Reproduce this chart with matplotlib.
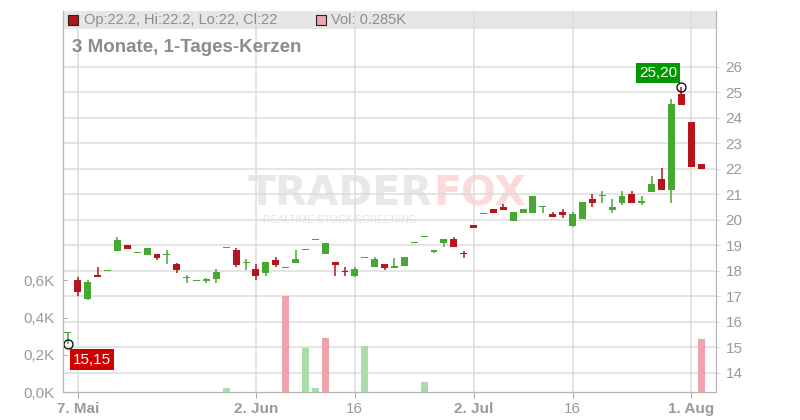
import numpy as np
import pandas as pd
import matplotlib
matplotlib.use('Agg')
import matplotlib.pyplot as plt
from matplotlib.patches import Rectangle
from matplotlib.ticker import FuncFormatter

plt.rcParams['font.family'] = ['Liberation Sans', 'DejaVu Sans']

# Handelstage 6. Mai - 4. Aug 2025
dates = pd.bdate_range('2025-05-06', '2025-08-04')

opens = [15.56, 17.65, 16.91, 17.84, 18.00, 18.79, 19.02, 18.69, 18.60, 18.66,
         18.62, 18.28, 17.72, 17.59, 17.61, 17.68, 18.89, 18.82, 18.30, 18.08,
         17.93, 18.43, 18.10, 18.31, 18.81, 19.20, 18.66, 18.35, 17.99, 17.81,
         18.50, 18.15, 18.27, 18.12, 18.17, 19.08, 19.32, 18.74, 19.07, 19.25,
         18.70, 19.80, 20.22, 20.43, 20.50, 19.97, 20.28, 20.28, 20.48, 20.23,
         20.31, 19.76, 20.03, 20.82, 20.93, 20.39, 20.66, 21.00, 20.67, 21.10,
         21.60, 21.18, 24.93, 23.83, 22.2]
highs = [15.58, 17.76, 17.63, 18.15, 18.00, 19.34, 19.02, 18.69, 18.90, 18.66,
         18.82, 18.31, 17.84, 17.59, 17.72, 18.08, 18.89, 18.90, 18.46, 18.27,
         18.35, 18.55, 18.10, 18.82, 18.81, 19.20, 19.09, 18.35, 18.15, 18.15,
         18.50, 18.55, 18.27, 18.51, 18.55, 19.08, 19.32, 18.81, 19.25, 19.33,
         18.78, 19.80, 20.22, 20.43, 20.62, 20.31, 20.43, 20.92, 20.49, 20.31,
         20.43, 20.31, 20.70, 21.01, 21.13, 20.82, 21.13, 21.13, 20.94, 21.72,
         22.02, 24.72, 25.20, 23.83, 22.2]
lows = [15.15, 17.03, 16.87, 17.74, 18.00, 18.79, 18.87, 18.69, 18.60, 18.44,
        18.28, 17.93, 17.54, 17.59, 17.54, 17.54, 18.89, 18.13, 18.05, 17.62,
        17.81, 18.13, 18.10, 18.31, 18.81, 19.20, 18.66, 17.81, 17.81, 17.74,
        18.50, 18.15, 18.05, 18.12, 18.17, 19.08, 19.32, 18.68, 18.95, 18.95,
        18.52, 19.68, 20.22, 20.28, 20.39, 19.97, 20.28, 20.28, 20.28, 20.09,
        20.07, 19.72, 20.03, 20.48, 20.67, 20.28, 20.59, 20.67, 20.59, 21.10,
        21.18, 20.67, 24.51, 22.08, 22.0]
closes = [15.57, 17.15, 17.57, 17.74, 18.00, 19.21, 18.87, 18.69, 18.90, 18.52,
          18.66, 18.04, 17.76, 17.59, 17.65, 17.96, 18.89, 18.24, 18.34, 17.81,
          18.35, 18.24, 18.10, 18.47, 18.81, 19.20, 19.09, 18.23, 17.95, 18.08,
          18.50, 18.47, 18.09, 18.15, 18.55, 19.08, 19.32, 18.81, 19.25, 18.95,
          18.66, 19.68, 20.22, 20.28, 20.39, 20.31, 20.43, 20.92, 20.49, 20.09,
          20.19, 20.23, 20.70, 20.66, 20.95, 20.50, 20.94, 20.67, 20.69, 21.41,
          21.18, 24.53, 24.51, 22.08, 22.0]

# Volumen in Tausend (nur Tage mit Umsatz)
vol_days = ['2025-05-28', '2025-06-05', '2025-06-09', '2025-06-10', '2025-06-11',
            '2025-06-17', '2025-06-25', '2025-08-04']
vol_k = [0.02, 0.516, 0.238, 0.02, 0.29, 0.247, 0.054, 0.285]

tick_days = ['2025-05-07', '2025-06-02', '2025-06-16', '2025-07-02', '2025-07-16', '2025-08-01']
tick_labels = ['7. Mai', '2. Jun', '16', '2. Jul', '16', '1. Aug']
tick_bold = [True, True, False, True, False, True]

GREEN = '#46a832'
RED = '#b5161b'
VGREEN = '#a9dca9'
VPINK = '#eea3ad'
GRID = '#dcdcdc'
TXT = '#9a9a9a'

o = np.array(opens); h = np.array(highs); l = np.array(lows); c = np.array(closes)
x = np.arange(len(dates))

fig = plt.figure(figsize=(8, 4.2), dpi=100)
ax = fig.add_axes([63 / 800, 28 / 420, 653 / 800, 381 / 420])
axv = ax.twinx()

# Header-Band und Wasserzeichen
ax.add_patch(Rectangle((0, 0.952), 1, 0.048, transform=ax.transAxes,
                       facecolor='#e6e6e6', edgecolor='none', zorder=0.2))
ax.text(433 / 800, 1 - 205 / 420, 'TRADER', transform=fig.transFigure, ha='right', va='baseline',
        fontsize=29.5, fontweight='bold', family='DejaVu Sans', color='#e8e8e8', zorder=0.3)
ax.text(433 / 800, 1 - 205 / 420, 'FOX', transform=fig.transFigure, ha='left', va='baseline',
        fontsize=29.5, fontweight='bold', family='DejaVu Sans', color='#fcdada', zorder=0.3)
ax.text(340 / 800, 1 - 220 / 420, 'REALTIME STOCK SCREENING', transform=fig.transFigure,
        ha='center', va='center', fontsize=7.5, color='#e4e4e4', zorder=0.3)

# Kerzen
up = c >= o
cols = np.where(up, GREEN, RED)
body_lo = np.minimum(o, c)
body_h = np.maximum(np.abs(c - o), 0.05)
ax.vlines(x, l, h, colors=cols, lw=1.1, zorder=3)
ax.bar(x, body_h, bottom=body_lo, width=0.7, color=cols, zorder=4)

# Tief / Hoch markieren
imin = int(np.argmin(l)); imax = int(np.argmax(h))
ax.plot([imin, imax], [l[imin], h[imax]], 'o', ms=6.5, mfc='none', mec='black', mew=0.9, zorder=5)
ax.annotate(f'{l[imin]:.2f}'.replace('.', ','), (imin, l[imin]), xytext=(5, -9),
            textcoords='offset pixels', ha='left', va='top', color='white', fontsize=11,
            bbox=dict(boxstyle='square,pad=0.2', fc='#cc0000', ec='none'), zorder=6)
ax.annotate(f'{h[imax]:.2f}'.replace('.', ','), (imax, h[imax]), xytext=(-4, 7),
            textcoords='offset pixels', ha='right', va='bottom', color='white', fontsize=11,
            bbox=dict(boxstyle='square,pad=0.2', fc='#009900', ec='none'), zorder=6)

# Volumen
vidx = [dates.get_loc(pd.Timestamp(d)) for d in vol_days]
vcols = [VGREEN if c[i] >= c[i - 1] else VPINK for i in vidx]
axv.bar(vidx, vol_k, width=0.7, color=vcols, zorder=2)

# Achsen
ax.set_xlim(-0.5, 65.5)
ax.set_ylim(13.25, 28.18)
axv.set_ylim(0, 2.048)

ax.yaxis.tick_right()
ax.set_yticks(range(14, 27))
ax.tick_params(axis='y', colors=GRID, labelcolor=TXT, labelsize=11, length=3, pad=4)
axv.yaxis.tick_left()
axv.set_yticks([0, 0.2, 0.4, 0.6])
axv.yaxis.set_major_formatter(FuncFormatter(lambda v, p: f'{v:.1f}K'.replace('.', ',')))
axv.tick_params(axis='y', colors='#aaaaaa', labelcolor=TXT, labelsize=11, length=3, direction='in', pad=6)

tpos = [dates.get_loc(pd.Timestamp(d)) for d in tick_days]
ax.set_xticks(tpos)
ax.set_xticklabels(tick_labels)
for lab, b in zip(ax.get_xticklabels(), tick_bold):
    lab.set_fontweight('bold' if b else 'normal')
ax.tick_params(axis='x', colors='#aaaaaa', labelcolor=TXT, labelsize=11, length=4, pad=3)

ax.grid(True, color=GRID, lw=1.1)
ax.set_axisbelow(True)
for a in (ax, axv):
    a.spines['top'].set_visible(False)
    for s in ('left', 'right', 'bottom'):
        a.spines[s].set_color('#b5b5b5')

# Kopfzeile
fig.add_artist(Rectangle((68 / 800, 1 - 25 / 420), 10 / 800, 10 / 420, transform=fig.transFigure,
                         facecolor=RED, edgecolor='#222222', lw=0.8))
fig.text(84 / 800, 1 - 20 / 420, f'Op:{o[-1]:g}, Hi:{h[-1]:g}, Lo:{l[-1]:g}, Cl:{c[-1]:g}',
         fontsize=10.5, color='#8c8c8c', va='center')
fig.add_artist(Rectangle((316 / 800, 1 - 25 / 420), 10 / 800, 10 / 420, transform=fig.transFigure,
                         facecolor=VPINK, edgecolor='#222222', lw=0.8))
fig.text(331 / 800, 1 - 20 / 420, f'Vol: {vol_k[-1]}K', fontsize=10.5, color='#8c8c8c', va='center')
fig.text(72 / 800, 1 - 48 / 420, '3 Monate, 1-Tages-Kerzen', fontsize=13.5, fontweight='bold',
         color='#8c8c8c', va='center')

fig.savefig('out.png', dpi=100)
